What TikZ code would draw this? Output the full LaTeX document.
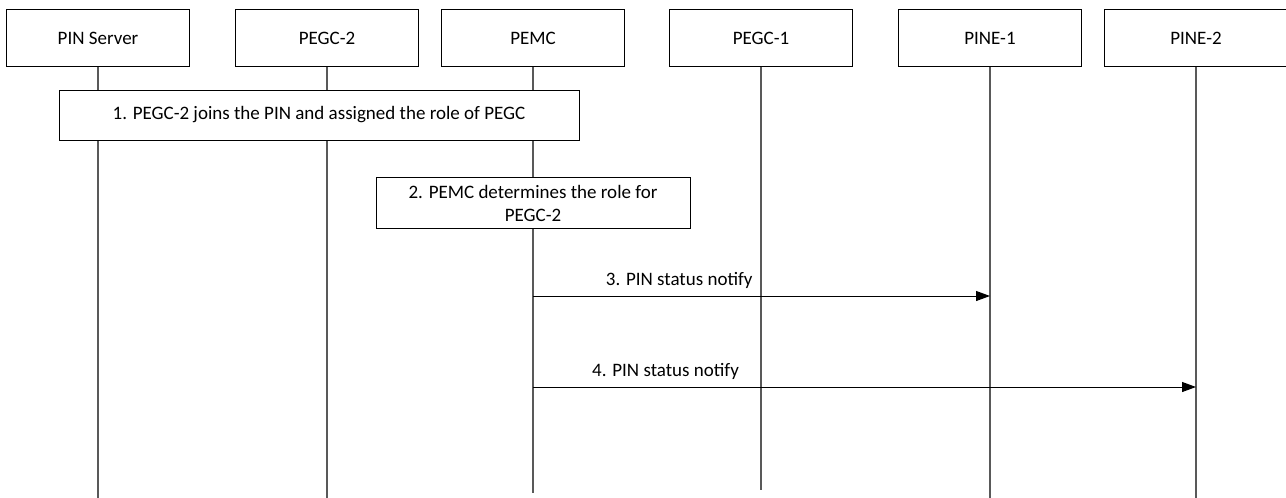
\documentclass[tikz,border=0pt]{standalone}
\usepackage{fontspec}
\setmainfont{Carlito}
\usetikzlibrary{arrows.meta}

\begin{document}
\begin{tikzpicture}[x=1pt,y=-1pt,>={Triangle[length=14pt,width=10pt]},
    actor/.style={draw,line width=0.8pt,minimum width=183pt,minimum height=57pt,font=\fontsize{19}{23}\selectfont},
    stepbox/.style={draw,fill=white,line width=0.8pt,font=\fontsize{19}{23}\selectfont,align=center},
    life/.style={draw=black!65,line width=1.4pt},
    msg/.style={->,line width=1pt},
    lbl/.style={font=\fontsize{19}{23}\selectfont}]
    \useasboundingbox (0,0) rectangle (1286,498);
    \node at (98,38)[actor] (srv){PIN Server};
    \node at (327,38)[actor] (gc2){PEGC-2};
    \node at (533,38)[actor] (emc){PEMC};
    \node at (761,38)[actor] (gc1){PEGC-1};
    \node at (990,38)[actor] (ne1){PINE-1};
    \node at (1196,38)[actor] (ne2){PINE-2};
    \coordinate (srvend) at (98,498);
    \coordinate (gc2end) at (327,498);
    \coordinate (emcend) at (533,493);
    \coordinate (gc1end) at (761,490);
    \coordinate (ne1end) at (990,498);
    \coordinate (ne2end) at (1196,498);
    \draw[life] (srv.south) -- (srvend);
    \draw[life] (gc2.south) -- (gc2end);
    \draw[life] (emc.south) -- (emcend);
    \draw[life] (gc1.south) -- (gc1end);
    \draw[life] (ne1.south) -- (ne1end);
    \draw[life] (ne2.south) -- (ne2end);
    \node at (319,115)[stepbox,minimum width=520pt,minimum height=50pt] (s1){1. PEGC-2 joins the PIN and assigned the role of PEGC};
    \node at (533,203)[stepbox,minimum width=314pt,minimum height=51pt,inner sep=1pt] (s2){2. PEMC determines the role for\\PEGC-2};
    \coordinate (m3a) at (533,296);
    \coordinate (m3b) at (990,296);
    \coordinate (m4a) at (533,387);
    \coordinate (m4b) at (1196,387);
    \draw[msg] (m3a) -- (m3b) node[lbl,above=4pt,pos=0.32]{3. PIN status notify};
    \draw[msg] (m4a) -- (m4b) node[lbl,above=4pt,pos=0.2]{4. PIN status notify};
  \end{tikzpicture}
\end{document}
